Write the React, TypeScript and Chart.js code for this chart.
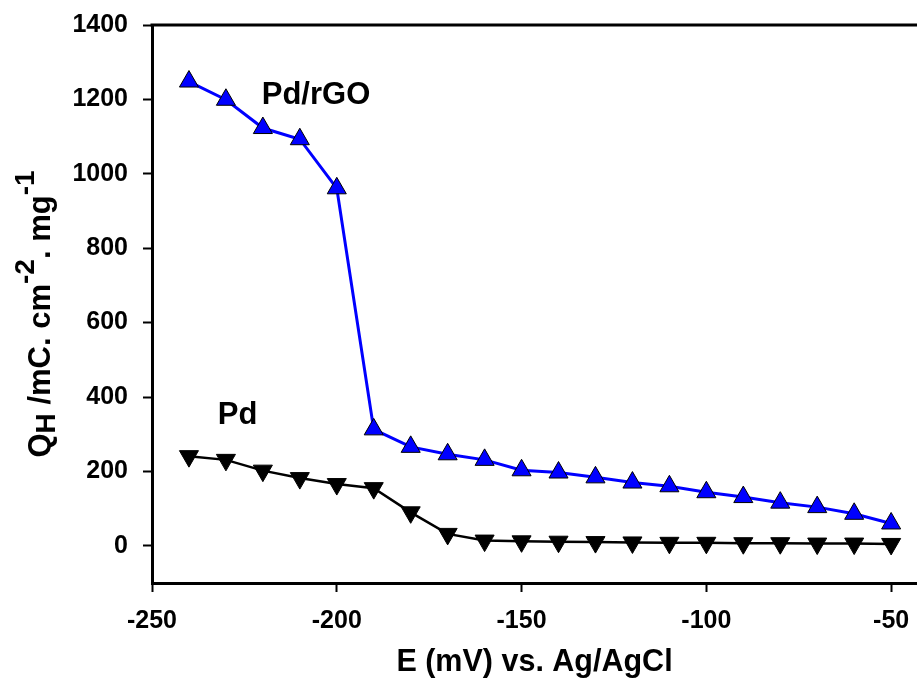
import React, { useEffect, useRef } from "react";
import { Chart, registerables } from "chart.js";

Chart.register(...registerables);

// ---- data ----
const potentials = [-240, -230, -220, -210, -200, -190, -180, -170, -160, -150, -140, -130, -120, -110, -100, -90, -80, -70, -60, -50];
const pdRgoCharge = [1248, 1199, 1123, 1093, 961, 313, 266, 246, 231, 203, 197, 184, 170, 160, 144, 131, 116, 104, 86, 60];
const pdCharge = [241, 231, 202, 182, 166, 155, 90, 32, 14, 12, 11, 10, 9, 8, 8, 7, 7, 6, 6, 5];
const seriesNames = ["Pd/rGO", "Pd"];
const xTickValues = [-250, -200, -150, -100, -50];
const yTickValues = [0, 200, 400, 600, 800, 1000, 1200, 1400];
const xTitle = "E (mV) vs. Ag/AgCl";
// series label anchors (data coordinates)
const labelTexts = ["Pd/rGO", "Pd"];
const labelX = [-220.3, -232.2];
const labelY = [1188, 328];

const FONT = '"Liberation Sans", Arial, sans-serif';

const overlayPlugin = {
  id: "overlay",
  afterDraw(chart: any) {
    const ctx = chart.ctx as CanvasRenderingContext2D;
    const area = chart.chartArea;
    const xs = chart.scales.x;
    const ys = chart.scales.y;
    ctx.save();
    // top frame line
    ctx.strokeStyle = "#000";
    ctx.lineWidth = 3;
    ctx.beginPath();
    ctx.moveTo(area.left - 1.5, area.top);
    ctx.lineTo(area.right, area.top);
    ctx.stroke();

    // series labels
    ctx.fillStyle = "#000";
    ctx.font = `bold 31px ${FONT}`;
    ctx.textAlign = "left";
    ctx.textBaseline = "alphabetic";
    labelTexts.forEach((t, i) => {
      ctx.fillText(t, xs.getPixelForValue(labelX[i]), ys.getPixelForValue(labelY[i]));
    });

    // y axis title with sub/superscripts
    const segs = [
      { t: "Q", size: 31, dy: 0 },
      { t: "H", size: 28, dy: 5 },
      { t: " /mC. cm", size: 31, dy: 0 },
      { t: "-2", size: 28, dy: -16 },
      { t: ". mg", size: 31, dy: 0 },
      { t: "-1", size: 28, dy: -16 },
    ];
    let total = 0;
    segs.forEach((s) => {
      ctx.font = `bold ${s.size}px ${FONT}`;
      total += ctx.measureText(s.t).width;
    });
    const centerY = 314;
    ctx.translate(50, centerY + total / 2);
    ctx.rotate(-Math.PI / 2);
    let pos = 0;
    segs.forEach((s) => {
      ctx.font = `bold ${s.size}px ${FONT}`;
      ctx.fillText(s.t, pos, s.dy);
      pos += ctx.measureText(s.t).width;
    });
    ctx.restore();
  },
};

export default function App() {
  const canvasRef = useRef<HTMLCanvasElement | null>(null);

  useEffect(() => {
    if (!canvasRef.current) return;
    const tickFont = { family: FONT, size: 25, weight: "bold" as const };
    const chart = new Chart(canvasRef.current, {
      type: "line",
      data: {
        datasets: [
          {
            label: seriesNames[0],
            data: potentials.map((x, i) => ({ x, y: pdRgoCharge[i] })),
            borderColor: "#0000FF",
            borderWidth: 3,
            backgroundColor: "#0000FF",
            pointStyle: "triangle",
            pointRadius: 11,
            pointBackgroundColor: "#0000FF",
            pointBorderColor: "#000",
            pointBorderWidth: 1,
            tension: 0,
            clip: false,
          },
          {
            label: seriesNames[1],
            data: potentials.map((x, i) => ({ x, y: pdCharge[i] })),
            borderColor: "#000",
            borderWidth: 2.5,
            backgroundColor: "#000",
            pointStyle: "triangle",
            pointRotation: 180,
            pointRadius: 11,
            pointBackgroundColor: "#000",
            pointBorderColor: "#000",
            pointBorderWidth: 1,
            tension: 0,
            clip: false,
          },
        ],
      },
      options: {
        animation: false,
        responsive: false,
        layout: { autoPadding: false, padding: { top: 25, left: 0, right: 0, bottom: 0 } },
        plugins: { legend: { display: false }, tooltip: { enabled: false } },
        scales: {
          x: {
            type: "linear",
            min: -250,
            max: -43,
            afterBuildTicks: (s: any) => {
              s.ticks = xTickValues.map((v) => ({ value: v }));
            },
            afterFit: (s: any) => {
              s.height = 98;
              s.paddingLeft = 0;
              s.paddingRight = 0;
            },
            border: { display: true, color: "#000", width: 3 },
            grid: { drawOnChartArea: false, drawTicks: true, tickLength: 9, tickColor: "#000", tickWidth: 2 },
            ticks: { color: "#000", font: tickFont, padding: 14, maxRotation: 0, autoSkip: false, callback: (v: any) => String(v) },
            title: {
              display: true,
              text: xTitle,
              color: "#000",
              font: { family: FONT, size: 30.5, weight: "bold" },
              padding: { top: 0, bottom: 0 },
            },
          },
          y: {
            type: "linear",
            min: -100,
            max: 1400,
            afterBuildTicks: (s: any) => {
              s.ticks = yTickValues.map((v) => ({ value: v }));
            },
            afterFit: (s: any) => {
              s.width = 152;
              s.paddingTop = 0;
              s.paddingBottom = 0;
            },
            border: { display: true, color: "#000", width: 3 },
            grid: { drawOnChartArea: false, drawTicks: true, tickLength: 9, tickColor: "#000", tickWidth: 2 },
            ticks: { color: "#000", font: tickFont, padding: 15, autoSkip: false, callback: (v: any) => String(v) },
          },
        },
      },
      plugins: [overlayPlugin],
    });
    return () => chart.destroy();
  }, []);

  return (
    <div style={{ position: "fixed", left: 0, top: 0, width: 917, height: 681, background: "#fff" }}>
      <canvas ref={canvasRef} width={917} height={681} />
    </div>
  );
}
